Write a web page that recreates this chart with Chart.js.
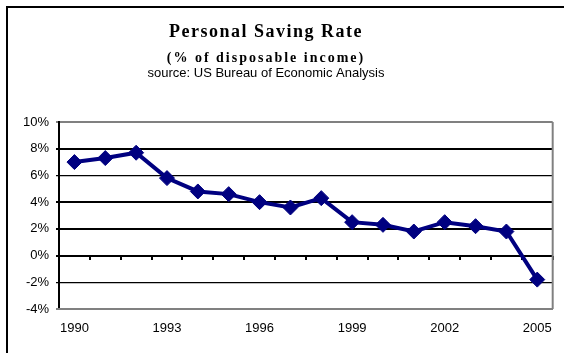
<!DOCTYPE html>
<html>
<head>
<meta charset="utf-8">
<script src="https://cdn.jsdelivr.net/npm/chart.js@4/dist/chart.umd.min.js"></script>
<style>
html,body{margin:0;padding:0;background:#fff;}
canvas{display:block;}
</style>
</head>
<body>
<canvas id="c" width="564" height="353"></canvas>
<script>
const titleText = "Personal Saving Rate";
const subtitleText = "(% of disposable income)";
const sourceText = "source: US Bureau of Economic Analysis";
const years = ["1990","1991","1992","1993","1994","1995","1996","1997","1998","1999","2000","2001","2002","2003","2004","2005"];
const savingRate = [7.0, 7.3, 7.7, 5.8, 4.8, 4.6, 4.0, 3.6, 4.3, 2.5, 2.3, 1.8, 2.5, 2.2, 1.8, -1.8];
const yMin = -4, yMax = 10, yStep = 2;
const labelEvery = 3;

const headerPlugin = {
  id: 'header',
  beforeDraw(chart) {
    const ctx = chart.ctx;
    ctx.save();
    ctx.fillStyle = '#fff';
    ctx.fillRect(0, 0, chart.width, chart.height);
    ctx.strokeStyle = '#000';
    ctx.lineWidth = 2;
    ctx.beginPath();
    ctx.moveTo(7, chart.height);
    ctx.lineTo(7, 7);
    ctx.lineTo(chart.width, 7);
    ctx.stroke();
    ctx.restore();
  },
  afterDraw(chart) {
    const ctx = chart.ctx;
    const cx = 266;
    ctx.save();
    ctx.fillStyle = '#000';
    ctx.textAlign = 'center';
    ctx.textBaseline = 'alphabetic';
    ctx.font = 'bold 18px "Liberation Serif", "Times New Roman", serif';
    ctx.letterSpacing = '1.5px';
    ctx.fillText(titleText, cx, 37);
    ctx.font = 'bold 14px "Liberation Serif", "Times New Roman", serif';
    ctx.letterSpacing = '2px';
    ctx.fillText(subtitleText, cx, 62);
    ctx.font = '13px "Liberation Sans", Arial, sans-serif';
    ctx.letterSpacing = '0px';
    ctx.fillText(sourceText, cx, 77);
    ctx.restore();
  }
};

const framePlugin = {
  id: 'frame',
  beforeDatasetsDraw(chart) {
    const a = chart.chartArea;
    const ctx = chart.ctx;
    ctx.save();
    ctx.strokeStyle = '#808080';
    ctx.lineWidth = 2;
    ctx.beginPath();
    ctx.moveTo(a.right, a.top);
    ctx.lineTo(a.right, a.bottom);
    ctx.stroke();
    ctx.restore();
  }
};

const thickLines = [8, 4, 2, 0];

new Chart(document.getElementById('c'), {
  type: 'line',
  data: {
    labels: years,
    datasets: [{
      data: savingRate,
      xAxisID: 'x',
      yAxisID: 'y',
      borderColor: '#000080',
      backgroundColor: '#000080',
      borderWidth: 4,
      tension: 0,
      pointStyle: 'rectRot',
      pointRadius: 7.5,
      pointBorderWidth: 1,
      pointBackgroundColor: '#000080',
      pointBorderColor: '#000080',
      clip: false
    }]
  },
  options: {
    responsive: false,
    animation: false,
    devicePixelRatio: 1,
    layout: { padding: { top: 122, right: 9, left: 0, bottom: 0 } },
    plugins: {
      legend: { display: false },
      tooltip: { enabled: false },
      title: { display: false }
    },
    scales: {
      y: {
        min: yMin, max: yMax,
        afterFit(s) { s.width = 59; },
        ticks: {
          stepSize: yStep,
          padding: 7,
          color: '#000',
          font: { family: '"Liberation Sans", Arial, sans-serif', size: 13 },
          callback: v => v + '%'
        },
        grid: {
          drawTicks: true,
          tickLength: 3,
          color: ctx => (ctx.tick && (ctx.tick.value === yMax || ctx.tick.value === yMin)) ? '#808080' : '#000',
          lineWidth: ctx => (ctx.tick && thickLines.includes(ctx.tick.value)) ? 2 : (ctx.tick && (ctx.tick.value === yMax || ctx.tick.value === yMin) ? 2 : 1.2)
        },
        border: { display: true, color: '#000', width: 2 }
      },
      x: {
        type: 'category',
        position: 'bottom',
        offset: true,
        afterFit(s) { s.height = 44; },
        ticks: {
          autoSkip: false,
          maxRotation: 0,
          padding: 12,
          color: '#000',
          font: { family: '"Liberation Sans", Arial, sans-serif', size: 13 },
          callback: function(v, i) { return i % labelEvery === 0 ? this.getLabelForValue(v) : ''; }
        },
        grid: { display: true, drawOnChartArea: false, drawTicks: false, color: '#808080' },
        border: { display: true, color: '#808080', width: 2 }
      },
      x2: {
        type: 'category',
        axis: 'x',
        position: { y: 0 },
        offset: true,
        ticks: { display: false },
        grid: { offset: true, drawOnChartArea: false, drawTicks: true, tickLength: 4, color: '#000', lineWidth: 2 },
        border: { display: false }
      }
    }
  },
  plugins: [headerPlugin, framePlugin]
});
</script>
</body>
</html>
